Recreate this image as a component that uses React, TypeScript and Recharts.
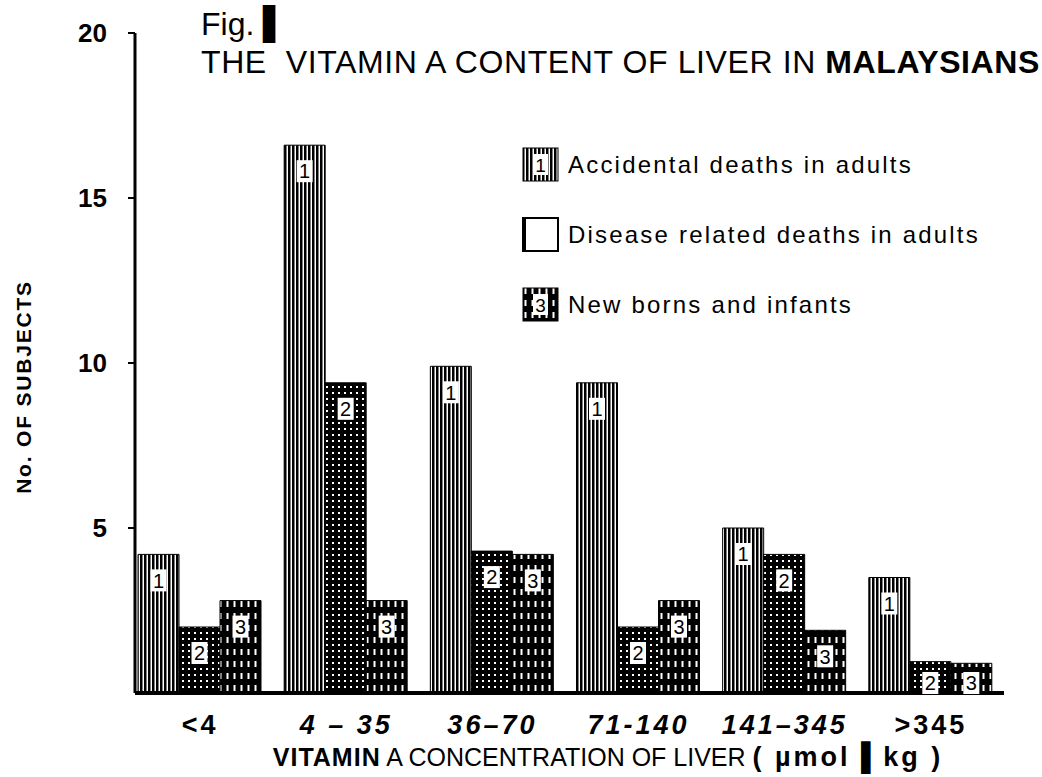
import React from "react";
import { Bar, BarChart, XAxis, YAxis, Legend, LabelList } from "recharts";

const categories = ["<4", "4 – 35", "36–70", "71-140", "141–345", ">345"];
const accidental = [4.2, 16.6, 9.9, 9.4, 5.0, 3.5];
const disease = [2.0, 9.4, 4.3, 2.0, 4.2, 0.95];
const infants = [2.8, 2.8, 4.2, 2.8, 1.9, 0.9];
const yTicks = [5, 10, 15, 20];
const seriesNames = ["Accidental deaths in adults", "Disease related deaths in adults", "New borns and infants"];

const data = categories.map((c, i) => ({ range: c, s1: accidental[i], s2: disease[i], s3: infants[i] }));

const FONT = "'Liberation Sans', Arial, Helvetica, sans-serif";

function Patterns() {
  return (
    <defs>
      <pattern id="stripes" width="4" height="10" patternUnits="userSpaceOnUse">
        <rect width="4" height="10" fill="#fff" />
        <rect x="0" width="2.5" height="10" fill="#000" />
      </pattern>
      <pattern id="dots" width="6" height="6" patternUnits="userSpaceOnUse">
        <rect width="6" height="6" fill="#000" />
        <rect x="2" y="2" width="2" height="2" fill="#fff" />
      </pattern>
      <pattern id="dashes" width="7" height="12" patternUnits="userSpaceOnUse">
        <rect width="7" height="12" fill="#000" />
        <rect x="2.5" y="1" width="2" height="6" fill="#fff" />
      </pattern>
    </defs>
  );
}

const numBox = (n: string) => (props: any) => {
  const x = Number(props.x), y = Number(props.y), w = Number(props.width), h = Number(props.height);
  const cx = x + w / 2;
  const cy = Math.min(y + 26, y + h - 10);
  return (
    <g>
      <rect x={cx - 8} y={cy - 11} width={16} height={22} fill="#fff" />
      <text x={cx} y={cy} dy="0.36em" textAnchor="middle" fontSize={20} fontFamily={FONT} fill="#000">{n}</text>
    </g>
  );
};

function XTick({ x, y, payload }: any) {
  const upright = /^[<>]/.test(payload.value);
  return (
    <text x={x} y={y + 33} textAnchor="middle" fontFamily={FONT} fontWeight="bold"
      fontStyle={upright ? "normal" : "italic"} fontSize={27} letterSpacing={3} fill="#000">
      {payload.value}
    </text>
  );
}

function YTick({ x, y, payload }: any) {
  return (
    <text x={x} y={y} dy="0.36em" textAnchor="end" fontFamily={FONT} fontWeight="bold" fontSize={26} fill="#000">
      {payload.value}
    </text>
  );
}

function swatch(i: number) {
  const fills = ["url(#stripes)", "#fff", "url(#dashes)"];
  return (
    <svg width={38} height={36} style={{ display: "block" }}>
      <rect x={1} y={1} width={35} height={33} fill={fills[i]} stroke="#000" strokeWidth={i === 1 ? 2 : 1} />
      {i === 1 && <rect x={1} y={1} width={3} height={33} fill="#000" />}
      {i !== 1 && (
        <g>
          <rect x={11} y={7} width={15} height={21} fill="#fff" />
          <text x={18.5} y={18} dy="0.36em" textAnchor="middle" fontSize={19} fontFamily={FONT}>{i + 1}</text>
        </g>
      )}
    </svg>
  );
}

function renderLegend() {
  return (
    <div>
      {seriesNames.map((name, i) => (
        <div key={name} style={{ display: "flex", alignItems: "center", height: 70 }}>
          {swatch(i)}
          <span style={{ marginLeft: 8, fontFamily: FONT, fontSize: 24, letterSpacing: 2.2, lineHeight: 1, color: "#000" }}>{name}</span>
        </div>
      ))}
    </div>
  );
}

export default function App() {
  return (
    <div style={{ position: "absolute", left: 0, top: 0, width: 1042, height: 777, background: "#fff" }}>
      <div style={{ position: "absolute", left: 201, top: 8, fontFamily: FONT, fontSize: 32, lineHeight: 1, color: "#000" }}>
        Fig. <span style={{ fontFamily: "'DejaVu Sans'" }}>▌</span>
      </div>
      <div style={{ position: "absolute", left: 201, top: 46, fontFamily: FONT, fontSize: 32, letterSpacing: 0.6, lineHeight: 1, color: "#000", whiteSpace: "pre" }}>
        {"THE  VITAMIN A CONTENT OF LIVER IN "}<b>MALAYSIANS</b>
      </div>
      <BarChart width={1042} height={777} data={data} margin={{ top: 33, right: 38, bottom: 24, left: 75 }}
        barCategoryGap={11} barGap={0}>
        <Patterns />
        <XAxis dataKey="range" height={60} padding={{ left: -8, right: 0 }} tickLine={false}
          axisLine={{ stroke: "#000", strokeWidth: 4 }} tick={<XTick />} interval={0}
          label={{
            content: (p: any) => {
              const vb = p.viewBox;
              return (
                <text x={608} y={vb.y + 73} textAnchor="middle" fontFamily={FONT} fontSize={25} fill="#000">
                  <tspan fontWeight="bold" letterSpacing={1}>VITAMIN</tspan>
                  <tspan> A CONCENTRATION OF LIVER </tspan>
                  <tspan fontWeight="bold" fontSize={27} letterSpacing={3}>( µmol ▌kg )</tspan>
                </text>
              );
            },
          }} />
        <YAxis width={60} domain={[0, 20]} ticks={yTicks} allowDataOverflow tickSize={7} tickMargin={21}
          axisLine={{ stroke: "#000", strokeWidth: 3 }} tickLine={{ stroke: "#000", strokeWidth: 2 }}
          tick={<YTick />}
          label={{
            content: () => (
              <text x={23} y={387} transform="rotate(-90 23 387)" textAnchor="middle" dy="0.36em"
                fontFamily={FONT} fontSize={21} fontWeight={600} letterSpacing={1.8} fill="#000">No. OF SUBJECTS</text>
            ),
          }} />
        <Legend layout="vertical" align="center" verticalAlign="middle" content={renderLegend}
          wrapperStyle={{ left: 522, top: 130, width: 520, height: 210 }} />
        <Bar dataKey="s1" name={seriesNames[0]} fill="url(#stripes)" stroke="#000" strokeWidth={1} isAnimationActive={false}>
          <LabelList dataKey="s1" content={numBox("1")} />
        </Bar>
        <Bar dataKey="s2" name={seriesNames[1]} fill="url(#dots)" stroke="#000" strokeWidth={1} isAnimationActive={false}>
          <LabelList dataKey="s2" content={numBox("2")} />
        </Bar>
        <Bar dataKey="s3" name={seriesNames[2]} fill="url(#dashes)" stroke="#000" strokeWidth={1} isAnimationActive={false}>
          <LabelList dataKey="s3" content={numBox("3")} />
        </Bar>
      </BarChart>
    </div>
  );
}
